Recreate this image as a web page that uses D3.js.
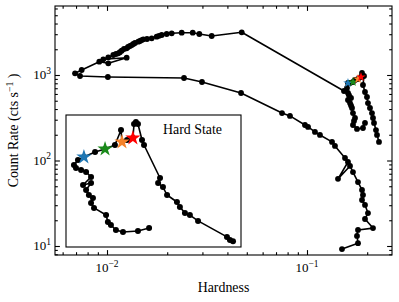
<!DOCTYPE html>
<html><head><meta charset="utf-8">
<script src="https://cdn.jsdelivr.net/npm/d3@7"></script>
<style>body{margin:0;background:#fff}svg{display:block}</style>
</head><body><svg id="c" width="399" height="302"></svg>
<script>
// ---- data: hard-state rise (hook end -> left chain -> peak -> right chain)
const riseHardness = [0.1950,0.1905,0.1778,0.1698,0.1718,0.1738,0.1698,0.1679,0.1660,0.1641,0.1603,0.1660,0.1622,0.1603,0.1585,0.1603,0.1641,0.1698,0.1738,0.1799,0.1862,0.1884,0.1928,0.1905,0.1950,0.1995,0.2018,0.2065,0.2113,0.2138,0.2163,0.2213,0.2239,0.2291];
const riseRate     = [275,240,234,260,290,314,359,411,440,470,510,538,580,616,705,806,806,828,874,898,947,1055,973,764,633,553,470,411,359,314,275,227,199,165];
// ---- data: outburst loop (transition -> soft state -> decay)
const loopHardness = [0.1531,0.04716,0.03338,0.02894,0.02683,0.02363,0.02106,0.01988,0.01877,0.01820,0.01772,0.01673,0.01585,0.01519,0.01490,0.01462,0.01434,0.0138,0.01354,0.01330,0.01303,0.01274,0.01254,0.01216,0.01184,0.01160,0.01139,0.01109,0.01075,0.01015,0.00958,0.01254,0.01015,0.00915,0.00747,0.00692,0.00733,0.0101,0.02427,0.02985,0.0468,0.075,0.0822,0.0977,0.1012,0.1096,0.1161,0.1334,0.138,0.1549,0.1603,0.1429,0.1641,0.1698,0.1799,0.1884,0.1905,0.1884,0.195,0.2018,0.195,0.2138,0.1799,0.1778,0.1799,0.1496];
const loopRate     = [650,3158,2858,3016,3124,3124,3074,3016,2937,2870,2805,2687,2636,2615,2560,2498,2452,2367,2305,2240,2184,2126,2053,2014,1924,1850,1794,1760,1713,1611,1526,1594,1370,1431,1144,1047,973,948,922,828,616,359,332,260,247,216,199,165,148,107,96,61,86.3,73.3,56,45.2,39.5,34.5,30.2,24.3,20.7,16.2,15.4,13.1,10.8,9.2];
// ---- highlighted observations (stars)
const starHardness = [0.1603,0.1698,0.1799,0.1862];
const starRate     = [806,828,898,947];
// ---- inset: hard state zoom
const insetHardness = [0.1860,0.1799,0.1720,0.1684,0.1659,0.1644,0.1635,0.1577,0.1563,0.1572,0.1553,0.1540,0.1563,0.1526,0.1563,0.1540,0.1517,0.1494,0.1485,0.1503,0.1530,0.1582,0.1630,0.1679,0.1710,0.1715,0.1741,0.1772,0.1778,0.1788,0.1799,0.1821,0.1832,0.1922,0.1911,0.1939,0.1963,0.2022,0.2040,0.2071,0.2102,0.2154,0.2349,0.2370,0.2392];
const insetRate     = [181,172,169,175,191,201,227,257,280,306,322,351,397,383,441,481,498,516,544,593,625,682,719,770,1000,812,840,870,1111,1151,1111,840,770,433,397,370,322,285,261,235,227,205,155,147,144];
const insetStarHardness = [0.1530,0.1630,0.1715,0.1772];
const insetStarRate     = [625,719,812,870];
// ---- ticks
const xTickValues = [0.01, 0.1];
const xTickLabels = [["10","\u22122"],["10","\u22121"]];
const yTickValues = [10, 100, 1000];
const yTickLabels = [["10","1"],["10","2"],["10","3"]];
const xLabel = "Hardness";
const yLabel = ["Count Rate (cts s", "\u22121", " )"];
const insetTitle = "Hard State";

// ---- styles
const starColors = ["#1f77b4","#1a8a1a","#f5822a","#ff0000"];
const FONT = "'Liberation Serif','Times New Roman',serif";
const M = {l:55, r:392, t:6, b:255};
const I = {l:66, r:241, t:115, b:247};

const svg = d3.select("#c");
svg.append("rect").attr("width",399).attr("height",302).attr("fill","#fff");

const x = d3.scaleLog().domain([0.005495, 0.2661]).range([M.l, M.r]);
const y = d3.scaleLog().domain([7.847, 6412]).range([M.b, M.t]);
const ix = d3.scaleLog().domain([0.145, 0.245]).range([I.l, I.r]);
const iy = d3.scaleLog().domain([130, 1300]).range([I.b, I.t]);

const zip = (a,b) => a.map((v,i)=>[v,b[i]]);

function drawSeries(g, pts, sx, sy, r) {
  const line = d3.line().x(d=>sx(d[0])).y(d=>sy(d[1]));
  g.append("path").datum(pts).attr("d", line).attr("fill","none")
    .attr("stroke","#000").attr("stroke-width",1.6).attr("stroke-linejoin","round");
  g.selectAll(null).data(pts).enter().append("circle")
    .attr("cx",d=>sx(d[0])).attr("cy",d=>sy(d[1])).attr("r",r).attr("fill","#000");
}
function drawStars(g, pts, sx, sy, size) {
  const sym = d3.symbol().type(d3.symbolStar).size(size);
  g.selectAll(null).data(pts).enter().append("path")
    .attr("d", sym).attr("fill",(d,i)=>starColors[i])
    .attr("transform",d=>`translate(${sx(d[0])},${sy(d[1])})`);
}

const gm = svg.append("g");
drawSeries(gm, zip(riseHardness, riseRate), x, y, 2.9);
drawSeries(gm, zip(loopHardness, loopRate), x, y, 2.9);
drawStars(gm, zip(starHardness, starRate), x, y, 28);

// inset
const gi = svg.append("g");
gi.append("rect").attr("x",I.l).attr("y",I.t).attr("width",I.r-I.l).attr("height",I.b-I.t)
  .attr("fill","#fff").attr("stroke","none");
drawSeries(gi, zip(insetHardness, insetRate), ix, iy, 3);
drawStars(gi, zip(insetStarHardness, insetStarRate), ix, iy, 72);
gi.append("rect").attr("x",I.l).attr("y",I.t).attr("width",I.r-I.l).attr("height",I.b-I.t)
  .attr("fill","none").attr("stroke","#000").attr("stroke-width",1.1);
gi.append("text").attr("x",163).attr("y",133.5).attr("font-family",FONT).attr("font-size",13.9)
  .attr("fill","#000").text(insetTitle);

// axes ticks (inward)
const minorX = x.ticks().filter(v=>!xTickValues.some(m=>Math.abs(m-v)/m<1e-6));
const minorY = y.ticks().filter(v=>!yTickValues.some(m=>Math.abs(m-v)/m<1e-6));
const MAJ = 4.9, MIN = 2.8;
function addAxis(axisFn, scale, majors, minors, transform) {
  [[majors, MAJ],[minors, MIN]].forEach(([vals,len])=>{
    const a = axisFn(scale).tickValues(vals).tickSizeInner(-len).tickSizeOuter(0).tickFormat("");
    const g = svg.append("g").attr("transform",transform).call(a);
    g.select(".domain").remove();
    g.selectAll("line").attr("stroke","#000").attr("stroke-width",1.1);
  });
}
addAxis(d3.axisBottom, x, xTickValues, minorX, `translate(0,${M.b})`);
addAxis(d3.axisTop, x, xTickValues, minorX, `translate(0,${M.t})`);
addAxis(d3.axisLeft, y, yTickValues, minorY, `translate(${M.l},0)`);
addAxis(d3.axisRight, y, yTickValues, minorY, `translate(${M.r},0)`);

svg.append("rect").attr("x",M.l).attr("y",M.t).attr("width",M.r-M.l).attr("height",M.b-M.t)
  .attr("fill","none").attr("stroke","#000").attr("stroke-width",1.1);

// tick labels
xTickValues.forEach((v,i)=>{
  const t = svg.append("text").attr("x",x(v)).attr("y",272).attr("text-anchor","middle")
    .attr("font-family",FONT).attr("font-size",13).attr("fill","#000");
  t.append("tspan").text(xTickLabels[i][0]);
  t.append("tspan").attr("font-size",9.5).attr("dy",-5.5).text(xTickLabels[i][1]);
});
yTickValues.forEach((v,i)=>{
  const t = svg.append("text").attr("x",51).attr("y",y(v)+4.5).attr("text-anchor","end")
    .attr("font-family",FONT).attr("font-size",13).attr("fill","#000");
  t.append("tspan").text(yTickLabels[i][0]);
  t.append("tspan").attr("font-size",9.5).attr("dy",-5.5).text(yTickLabels[i][1]);
});

// axis labels
svg.append("text").attr("x",(M.l+M.r)/2).attr("y",292).attr("text-anchor","middle")
  .attr("font-family",FONT).attr("font-size",13.9).attr("fill","#000").text(xLabel);
const yl = svg.append("text").attr("transform",`translate(18,${(M.t+M.b)/2}) rotate(-90)`)
  .attr("text-anchor","middle").attr("font-family",FONT).attr("font-size",13.9).attr("fill","#000");
yl.append("tspan").text(yLabel[0]);
yl.append("tspan").attr("font-size",9.7).attr("dy",-5.5).text(yLabel[1]);
yl.append("tspan").attr("dy",5.5).text(yLabel[2]);
</script></body></html>
